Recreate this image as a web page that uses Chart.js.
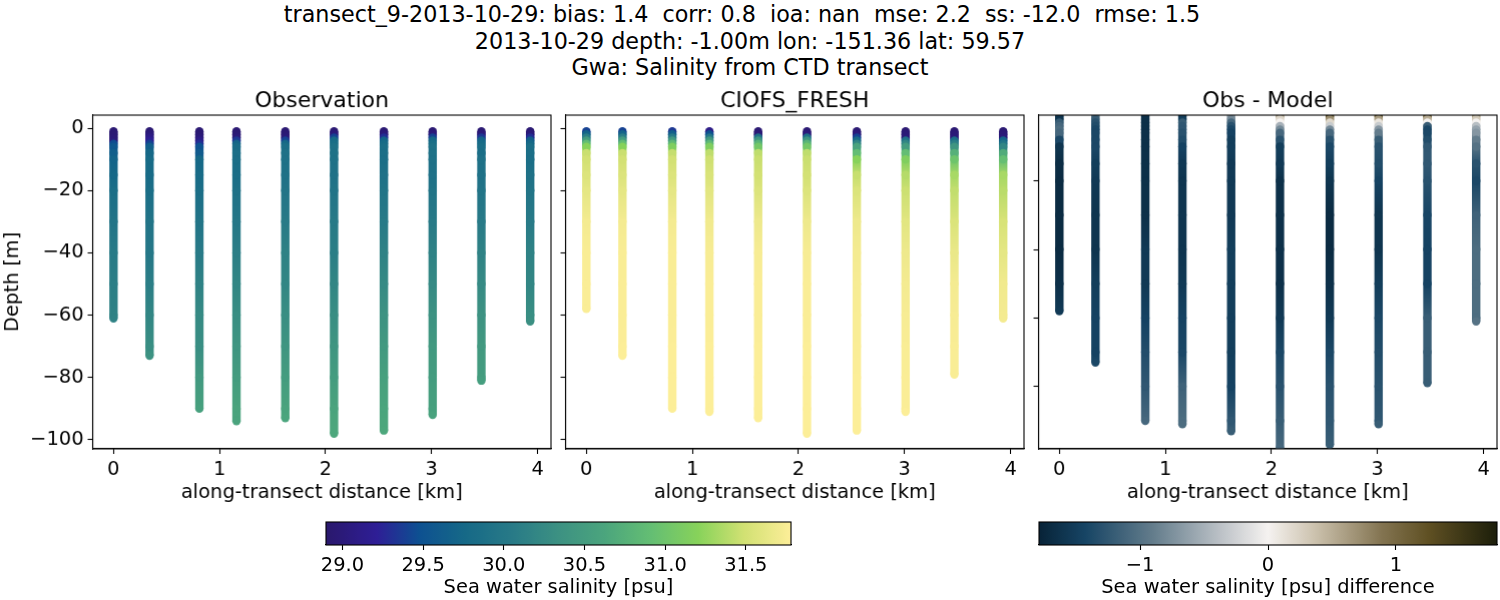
<!DOCTYPE html>
<html><head><meta charset="utf-8">
<script src="https://cdn.jsdelivr.net/npm/chart.js@4"></script>
<style>
html,body{margin:0;padding:0;background:#fff;width:1500px;height:600px;overflow:hidden}
canvas{position:absolute}
.t{position:absolute;left:0;width:1500px;text-align:center;font:22.25px "DejaVu Sans";color:#000;white-space:pre;line-height:26px}
</style></head><body>
<div class="t" style="top:1px;left:-8px">transect_9-2013-10-29: bias: 1.4  corr: 0.8  ioa: nan  mse: 2.2  ss: -12.0  rmse: 1.5</div>
<div class="t" style="top:28px">2013-10-29 depth: -1.00m lon: -151.36 lat: 59.57</div>
<div class="t" style="top:54px">Gwa: Salinity from CTD transect</div>
<canvas id="c1"></canvas><canvas id="c2"></canvas><canvas id="c3"></canvas><canvas id="b1"></canvas><canvas id="b2"></canvas>
<script>
const panelTitles=["Observation","CIOFS_FRESH","Obs - Model"];
const xLabel="along-transect distance [km]";
const yLabel="Depth [m]";
const castKm=[0,0.34,0.81,1.16,1.62,2.08,2.55,3.01,3.47,3.93];
const xTicks=[0,1,2,3,4];
const yTicksLeft=[0,-20,-40,-60,-80,-100];
const yTicksDiff=[-20,-40,-60,-80];
const salinityTicks=[29.0,29.5,30.0,30.5,31.0,31.5];
const diffTicks=[-1,0,1];
const depthNodes=[1,2,3,4,5,6,8,10,15,20,30,40,50,60,70,80,90];
const obsEnd=[61,73,90,94,93,98,97,92,81,62];
const modelEnd=[58,73,90,91,93,98,97,91,79,61];
const obsSalinity=[
[28.95,28.95,28.97,29.0,29.45,29.55,29.65,29.7,29.75,29.85,29.95,30.05,30.1,30.15,30.15],
[28.95,29.0,29.1,29.2,29.4,29.65,29.75,29.8,29.8,29.85,29.95,30.0,30.1,30.2,30.3,30.35],
[28.95,28.95,29.0,29.1,29.3,29.5,29.6,29.75,29.8,29.85,29.95,30.05,30.15,30.25,30.3,30.45,30.55],
[28.95,28.95,29.0,29.35,29.7,29.8,29.85,29.85,29.85,29.9,30.0,30.1,30.2,30.3,30.4,30.5,30.6,30.6],
[28.95,28.95,29.0,29.4,29.75,29.85,29.9,29.9,29.9,29.95,30.05,30.15,30.2,30.3,30.4,30.5,30.6,30.62],
[28.95,29.0,29.4,29.8,29.85,29.9,29.9,29.9,29.9,29.95,30.05,30.1,30.2,30.3,30.4,30.5,30.6,30.65],
[28.95,29.0,29.3,29.7,29.8,29.85,29.85,29.85,29.9,29.95,30.05,30.15,30.25,30.35,30.45,30.55,30.62,30.65],
[28.95,29.0,29.4,29.75,29.85,29.9,29.9,29.9,29.9,29.95,30.05,30.15,30.25,30.35,30.45,30.5,30.55,30.58],
[28.95,29.0,29.35,29.7,29.8,29.85,29.85,29.9,29.9,29.95,30.05,30.15,30.25,30.35,30.45,30.5,30.52],
[28.95,29.0,29.3,29.65,29.75,29.85,29.85,29.85,29.9,29.95,30.05,30.15,30.2,30.3,30.32]
];
const modelSalinity=[
[29.4,29.7,30.1,30.5,30.9,31.2,31.46,31.5,31.56,31.62,31.72,31.75,31.76,31.76],
[29.4,29.7,30.1,30.5,30.9,31.2,31.46,31.5,31.56,31.62,31.72,31.75,31.76,31.76,31.77,31.77],
[29.35,29.65,30.05,30.45,30.85,31.15,31.44,31.5,31.56,31.62,31.72,31.75,31.76,31.76,31.77,31.77,31.77],
[29.1,29.5,30.0,30.45,30.85,31.15,31.42,31.48,31.54,31.6,31.7,31.74,31.76,31.76,31.77,31.77,31.77,31.77],
[28.95,28.98,29.9,30.4,30.8,31.05,31.42,31.46,31.5,31.56,31.68,31.74,31.76,31.76,31.77,31.77,31.77,31.77],
[28.95,29.0,29.9,30.4,30.8,31.05,31.42,31.46,31.5,31.56,31.68,31.74,31.76,31.76,31.77,31.77,31.77,31.77],
[28.95,29.0,29.4,29.8,30.2,30.6,30.9,31.2,31.45,31.55,31.68,31.72,31.74,31.75,31.76,31.77,31.77,31.77],
[28.95,28.97,29.0,29.9,30.2,30.5,30.9,31.15,31.38,31.47,31.6,31.68,31.72,31.74,31.75,31.76,31.76,31.77],
[28.95,28.97,29.0,29.85,30.1,30.4,30.75,31.0,31.33,31.43,31.55,31.65,31.72,31.74,31.75,31.75],
[28.95,28.97,29.0,29.7,29.95,30.2,30.7,30.92,31.33,31.4,31.53,31.62,31.7,31.72,31.72]
];
const diffSalinity=[
[-1.6,-1.6,-1.2,-1.1,-1.05,-1.1,-1.4,-1.6,-1.68,-1.7,-1.7,-1.7,-1.65,-1.55],
[-1.0,-1.2,-1.3,-1.35,-1.4,-1.4,-1.4,-1.4,-1.5,-1.55,-1.6,-1.6,-1.5,-1.45,-1.45,-1.4],
[-1.65,-1.65,-1.65,-1.65,-1.65,-1.65,-1.65,-1.65,-1.65,-1.65,-1.65,-1.55,-1.55,-1.45,-1.35,-1.25,-1.1],
[-1.6,-1.5,-1.2,-1.25,-1.25,-1.3,-1.35,-1.45,-1.55,-1.6,-1.6,-1.6,-1.55,-1.45,-1.4,-1.15,-1.05,-1.05],
[-0.6,-0.8,-1.1,-1.3,-1.4,-1.45,-1.5,-1.5,-1.55,-1.55,-1.55,-1.5,-1.5,-1.5,-1.5,-1.45,-1.25,-1.2],
[0.6,0.2,0.0,-0.5,-0.8,-1.1,-1.3,-1.5,-1.55,-1.65,-1.65,-1.65,-1.65,-1.55,-1.4,-1.3,-1.2,-1.1],
[1.3,0.7,0.2,-0.3,-0.8,-1.1,-1.3,-1.4,-1.5,-1.6,-1.7,-1.7,-1.65,-1.55,-1.4,-1.3,-1.25,-1.2],
[1.2,0.6,0.1,-0.3,-0.7,-0.9,-1.2,-1.3,-1.35,-1.45,-1.6,-1.6,-1.5,-1.4,-1.35,-1.3,-1.25,-1.2],
[1.1,0.5,0.0,-1.2,-1.4,-1.4,-1.35,-1.25,-1.25,-1.3,-1.42,-1.45,-1.45,-1.2,-1.2,-1.2],
[0.6,0.3,0.0,-0.4,-0.6,-0.7,-0.9,-1.0,-1.3,-1.4,-1.15,-1.05,-1.05,-1.05,-1.0]
];
const salinityRange=[28.898,31.78];
const diffRange=[-1.79,1.79];
const halineStops=[[0,42,24,108],[.11,46,30,150],[.2,13,80,145],[.3,22,105,135],[.4,40,122,135],[.5,60,145,130],[.6,75,165,125],[.7,100,190,115],[.8,135,210,90],[.9,210,225,115],[1,253,238,153]];
const diffStops=[[0,7,35,55],[.1,22,68,100],[.25,100,125,140],[.4,190,195,200],[.5,245,242,240],[.6,205,195,175],[.75,130,115,80],[.85,95,80,35],[1,28,30,10]];

function colorAt(stops,t){
  t=Math.max(0,Math.min(1,t));
  for(let i=1;i<stops.length;i++){
    if(t<=stops[i][0]){
      const a=stops[i-1],b=stops[i],f=(t-a[0])/(b[0]-a[0]);
      return `rgb(${[1,2,3].map(k=>Math.round(a[k]+(b[k]-a[k])*f)).join(",")})`;
    }
  }
  return `rgb(${stops[stops.length-1].slice(1).join(",")})`;
}
const FONT="DejaVu Sans";
const TXT=19.44;
const MARK=8.4;
const fmt=v=>String(v).replace("-","\u2212");
const boxPlugin={id:"box",afterDraw(c){const a=c.chartArea,x=c.ctx;x.save();x.strokeStyle="#000";x.lineWidth=1.1;x.strokeRect(a.left,a.top,a.right-a.left,a.bottom-a.top);x.restore();}};

function place(id,l,t,w,h){const c=document.getElementById(id);c.width=w;c.height=h;c.style.left=l+"px";c.style.top=t+"px";c.style.width=w+"px";c.style.height=h+"px";return c;}

function panel(id,idx,left,areaLeft,areaRight,vals,ends,stops,range,ymin,ymax,yt,showY){
  const w=areaRight+10-left;
  const c=place(id,left,78,w,426.5);
  const col=v=>colorAt(stops,(v-range[0])/(range[1]-range[0]));
  const datasets=vals.map((row,i)=>{
    const depths=depthNodes.filter(d=>d<ends[i]).concat(ends[i]);
    const n=Math.min(depths.length,row.length);
    const data=[];const colors=[];
    for(let k=0;k<n;k++){data.push({x:castKm[i],y:-depths[k]});colors.push(col(row[k]));}
    return {data,showLine:true,borderWidth:MARK,borderCapStyle:"butt",borderColor:colors[0],
      pointRadius:MARK/2,pointBorderWidth:0,pointBackgroundColor:colors,pointHoverRadius:MARK/2,
      segment:{borderColor:s=>{
        const g=s.chart.ctx.createLinearGradient(0,s.p0.y,0,s.p1.y);
        g.addColorStop(0,colors[s.p0DataIndex]);g.addColorStop(1,colors[s.p1DataIndex]);return g;}}};
  });
  return new Chart(c,{type:"scatter",data:{datasets},plugins:[boxPlugin],options:{
    responsive:false,animation:false,devicePixelRatio:1,
    layout:{padding:{top:12.5,right:10,left:0,bottom:0}},
    plugins:{legend:{display:false},tooltip:{enabled:false},
      title:{display:true,fullSize:false,text:panelTitles[idx],color:"#000",font:{family:FONT,size:22,weight:"normal",lineHeight:1},padding:{top:0,bottom:2.5}}},
    scales:{
      x:{type:"linear",min:-0.1965,max:4.1265,afterBuildTicks:a=>{a.ticks=xTicks.map(v=>({value:v}));},afterFit:a=>{a.height=56;},
        grid:{drawOnChartArea:false,drawTicks:true,tickLength:5,tickColor:"#000",tickWidth:1.1},border:{color:"#000",width:1.1},
        ticks:{color:"#000",font:{family:FONT,size:TXT},padding:4,maxRotation:0,autoSkip:false,callback:v=>fmt(v)},
        title:{display:true,text:xLabel,color:"#000",font:{family:FONT,size:TXT},padding:{top:5,bottom:0}}},
      y:{type:"linear",min:ymin,max:ymax,afterBuildTicks:a=>{a.ticks=yt.map(v=>({value:v}));},afterFit:a=>{a.width=areaLeft-left;},
        grid:{drawOnChartArea:false,drawTicks:true,tickLength:5,tickColor:"#000",tickWidth:1.1},border:{color:"#000",width:1.1},
        ticks:{color:"#000",font:{family:FONT,size:TXT},padding:4,autoSkip:false,callback:v=>showY?fmt(v):""},
        title:{display:showY,text:yLabel,color:"#000",font:{family:FONT,size:TXT},padding:{top:1,bottom:0}}}
    }}});
}
panel("c1",0,0,92.5,550.5,obsSalinity,obsEnd,halineStops,salinityRange,-102.9,4.2,yTicksLeft,true);
panel("c2",1,555,565.5,1023.5,modelSalinity,modelEnd,halineStops,salinityRange,-102.9,4.2,yTicksLeft,false);
panel("c3",2,1028,1038.5,1496.5,diffSalinity,modelEnd,diffStops,diffRange,-98.2,-0.8,yTicksDiff,false);

function bar(id,left,right,stops,range,ticks,label,tf){
  const c=place(id,left-20,516,right-left+40,84);
  const grad={id:"grad",beforeDatasetsDraw(ch){const a=ch.chartArea,x=ch.ctx,g=x.createLinearGradient(a.left,0,a.right,0);
    for(let i=0;i<=100;i++)g.addColorStop(i/100,colorAt(stops,i/100));
    x.fillStyle=g;x.fillRect(a.left,a.top,a.right-a.left,a.bottom-a.top);}};
  return new Chart(c,{type:"scatter",data:{datasets:[{data:[]}]},plugins:[grad,boxPlugin],options:{
    responsive:false,animation:false,devicePixelRatio:1,
    layout:{padding:{top:6,right:20,left:20,bottom:0}},
    plugins:{legend:{display:false},tooltip:{enabled:false}},
    scales:{
      y:{display:false,min:0,max:1},
      x:{type:"linear",min:range[0],max:range[1],afterBuildTicks:a=>{a.ticks=ticks.map(v=>({value:v}));},afterFit:a=>{a.height=55;},
        grid:{drawOnChartArea:false,drawTicks:true,tickLength:5,tickColor:"#000",tickWidth:1.1},border:{color:"#000",width:1.1},
        ticks:{color:"#000",font:{family:FONT,size:TXT},padding:4,maxRotation:0,autoSkip:false,callback:tf},
        title:{display:true,text:label,color:"#000",font:{family:FONT,size:TXT},padding:{top:-2,bottom:0}}}
    }}});
}
bar("b1",325.5,790.5,halineStops,salinityRange,salinityTicks,"Sea water salinity [psu]",v=>Number(v).toFixed(1));
bar("b2",1038.5,1496.5,diffStops,diffRange,diffTicks,"Sea water salinity [psu] difference",v=>fmt(v));
</script></body></html>
